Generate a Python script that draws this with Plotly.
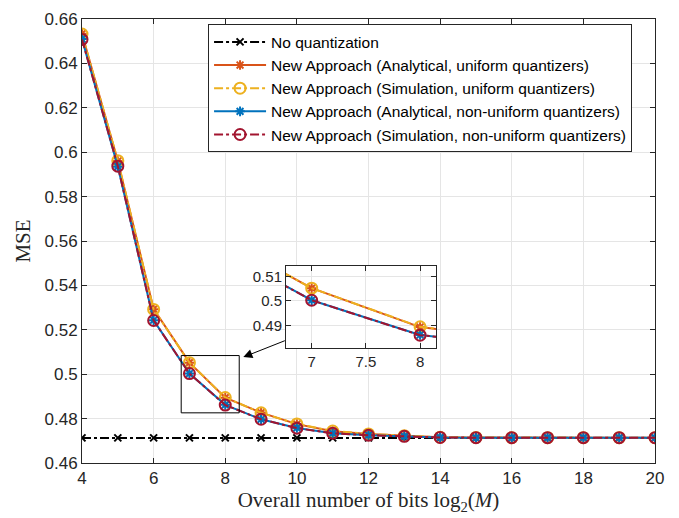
import plotly.graph_objects as go

bits = [4, 5, 6, 7, 8, 9, 10, 11, 12, 13, 14, 15, 16, 17, 18, 19, 20]
no_quant = [0.4713] * len(bits)
ana_uniform = [0.6534, 0.5960, 0.5293, 0.5052, 0.4894, 0.4827, 0.4775, 0.4743, 0.4731, 0.4723, 0.4716,
               0.4715, 0.4714, 0.4714, 0.4714, 0.4714, 0.4714]
sim_uniform = [0.6532, 0.5962, 0.5292, 0.5052, 0.4895, 0.4826, 0.4776, 0.4744, 0.4731, 0.4723, 0.4716,
               0.4715, 0.4714, 0.4714, 0.4714, 0.4714, 0.4714]
ana_nonuni = [0.6510, 0.5935, 0.5243, 0.5003, 0.4862, 0.4797, 0.4758, 0.4734, 0.4725, 0.4720, 0.4715,
              0.4714, 0.4714, 0.4714, 0.4714, 0.4714, 0.4714]
sim_nonuni = [0.6508, 0.5937, 0.5242, 0.5003, 0.4861, 0.4797, 0.4757, 0.4734, 0.4725, 0.4720, 0.4715,
              0.4714, 0.4714, 0.4714, 0.4714, 0.4714, 0.4714]

yticks = [0.46, 0.48, 0.5, 0.52, 0.54, 0.56, 0.58, 0.6, 0.62, 0.64, 0.66]
xticks = [4, 6, 8, 10, 12, 14, 16, 18, 20]
inset_xticks = [7, 7.5, 8]
inset_yticks = [0.49, 0.5, 0.51]

names = ["No quantization",
         "New Approach (Analytical, uniform quantizers)",
         "New Approach (Simulation, uniform quantizers)",
         "New Approach (Analytical, non-uniform quantizers)",
         "New Approach (Simulation, non-uniform quantizers)"]
series = [no_quant, ana_uniform, sim_uniform, ana_nonuni, sim_nonuni]
colors = ["#000000", "#D95319", "#EDB120", "#0072BD", "#A2142F"]
dashes = ["dashdot", "solid", "dashdot", "solid", "dashdot"]
symbols = ["x-thin-open", "asterisk-open", "circle-open", "asterisk-open", "circle-open"]
msizes = [7, 8, 11, 8, 11]

fig = go.Figure()
for i, (nm, ys) in enumerate(zip(names, series)):
    fig.add_trace(go.Scatter(
        x=bits, y=ys, name=nm, mode="lines+markers",
        line=dict(color=colors[i], width=2, dash=dashes[i]),
        marker=dict(symbol=symbols[i], size=msizes[i], color=colors[i],
                    line=dict(color=colors[i], width=2)),
        xaxis="x", yaxis="y"))
# inset traces
for i, (nm, ys) in enumerate(zip(names, series)):
    if i == 0:
        continue
    fig.add_trace(go.Scatter(
        x=bits, y=ys, name=nm, mode="lines+markers", showlegend=False,
        line=dict(color=colors[i], width=2, dash=dashes[i]),
        marker=dict(symbol=symbols[i], size=msizes[i], color=colors[i],
                    line=dict(color=colors[i], width=2)),
        xaxis="x2", yaxis="y2", cliponaxis=True))

tickfont = dict(family="Liberation Sans, Arial, sans-serif", size=17, color="#262626")
insetfont = dict(family="Liberation Sans, Arial, sans-serif", size=15, color="#262626")
titlefont = dict(family="Liberation Serif, DejaVu Serif, serif", size=21, color="#262626")
axis_common = dict(showline=True, linecolor="#262626", linewidth=1, mirror="ticks",
                   ticks="inside", ticklen=5, tickcolor="#262626",
                   showgrid=True, gridcolor="#E5E5E5", gridwidth=1, zeroline=False)

fig.update_layout(
    width=679, height=518,
    margin=dict(l=82, r=24, t=10, b=55),
    plot_bgcolor="white", paper_bgcolor="white",
    xaxis=dict(range=[4, 20], tickvals=xticks, domain=[0, 1], tickfont=tickfont,
               title=dict(text="Overall number of bits log<sub>2</sub>(<i>M</i>)",
                          font=titlefont, standoff=2),
               **axis_common),
    yaxis=dict(range=[0.46, 0.66], tickvals=yticks, tickformat="~g", domain=[0, 1],
               tickfont=tickfont,
               title=dict(text="MSE", font=titlefont, standoff=8),
               **axis_common),
    xaxis2=dict(range=[6.763, 8.148], tickvals=inset_xticks, domain=[0.356, 0.618],
                anchor="y2", tickfont=insetfont, **axis_common),
    yaxis2=dict(range=[0.4809, 0.5142], tickvals=inset_yticks, tickformat="~g",
                domain=[0.259, 0.4437], anchor="x2", tickfont=insetfont, **axis_common),
    legend=dict(x=0.22, y=0.988, xanchor="left", yanchor="top",
                bgcolor="white", bordercolor="#262626", borderwidth=1,
                font=dict(family="Liberation Sans, Arial, sans-serif", size=15.5, color="#000000"),
                tracegroupgap=0, itemwidth=52),
    shapes=[dict(type="rect", xref="x", yref="y", x0=6.77, x1=8.39, y0=0.4826, y1=0.5084,
                 line=dict(color="black", width=1), layer="above")],
    annotations=[dict(x=8.505, y=0.5077, xref="x", yref="y", ax=43, ay=-17,
                      showarrow=True, arrowhead=2, arrowsize=1.8, arrowwidth=1,
                      arrowcolor="black", text="")],
)

fig.write_html("out.html")
